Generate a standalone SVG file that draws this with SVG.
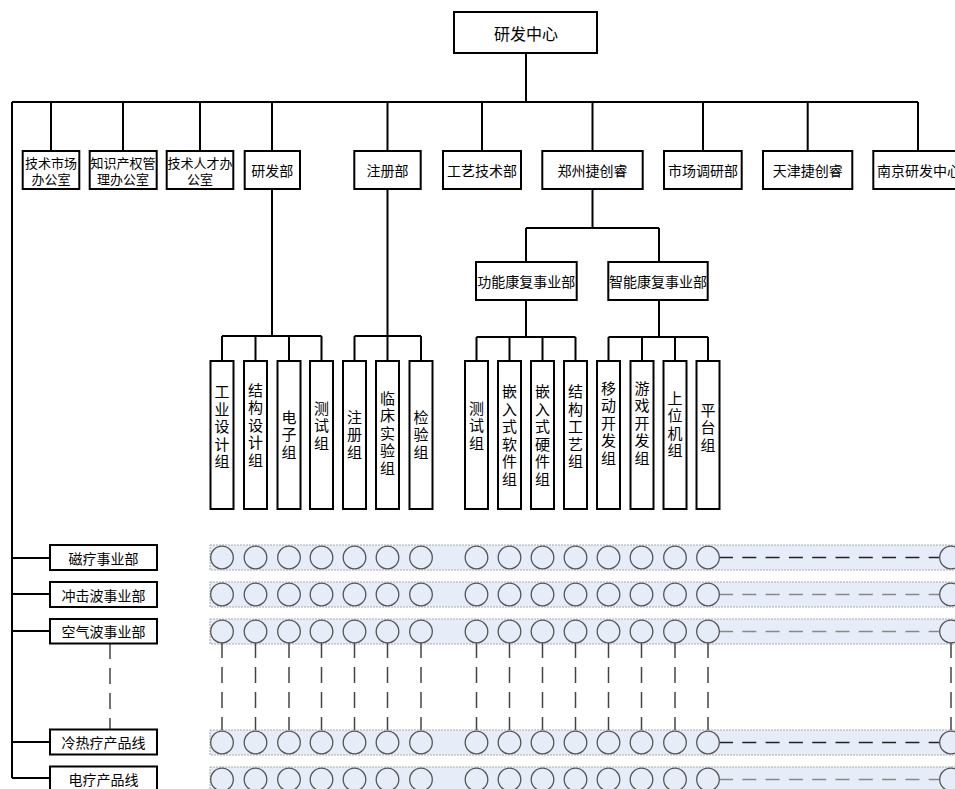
<svg xmlns="http://www.w3.org/2000/svg" width="955" height="789" viewBox="0 0 955 789">
<style>
.box{fill:#fff;stroke:#000;stroke-width:2}
.ln{fill:none;stroke:#000;stroke-width:2}
.t{font-family:"Noto Sans CJK SC","Liberation Sans",sans-serif;fill:#000;text-anchor:middle;dominant-baseline:central}
.t13{font-size:13px}
.t14{font-size:14px}
.t16{font-size:16px}
.v{font-family:"Noto Sans CJK SC","Liberation Sans",sans-serif;fill:#000;font-size:15px;writing-mode:vertical-rl;text-anchor:start;dominant-baseline:central;letter-spacing:2.5px}
.band{fill:#e7edf8;stroke:#aaa;stroke-width:1;stroke-dasharray:2 1}
.c{fill:#e7edf8;stroke:#555;stroke-width:1.3}
.hd1{fill:none;stroke:#222;stroke-width:1.5;stroke-dasharray:14 9.3}
.hd2{fill:none;stroke:#888;stroke-width:1.5;stroke-dasharray:14 9.3}
.vd{fill:none;stroke:#444;stroke-width:1.5;stroke-dasharray:16 9}
</style>
<rect width="955" height="789" fill="#fff"/>

<g id="connectors">
<path class="ln" d="M526,53V102M12,102H918M51,102V151M123,102V151M200,102V151M272,102V151M387.5,102V151M482,102V151M592.5,102V151M703,102V151M807.7,102V151M918,102V151"/>
<path class="ln" d="M272,189V336M222,336H321.5M222,336V361M255.5,336V361M289,336V361M321.5,336V361"/>
<path class="ln" d="M387.5,189V336M354.5,336H421M354.5,336V361M387.5,336V361M421,336V361"/>
<path class="ln" d="M592.5,189V228M526,228H659M526,228V262M659,228V262"/>
<path class="ln" d="M526,300V337M476.5,337H575.5M476.5,337V361M509.5,337V361M542.5,337V361M575.5,337V361"/>
<path class="ln" d="M659,300V337M608.5,337H708M608.5,337V361M642,337V361M675,337V361M708,337V361"/>
<path class="ln" d="M12,102V778M12,558H50M12,594H50M12,631H50M12,742H50M12,778H50"/>
<path class="vd" d="M110,643V729"/>
</g>

<g id="n-center"><rect class="box" x="454" y="12" width="143" height="41"/><text class="t t16" x="526" y="33">研发中心</text></g>

<g id="n-jssc"><rect class="box" x="22.7" y="151" width="56.6" height="38"/><text class="t t13"><tspan x="51" y="162">技术市场</tspan><tspan x="51" dy="16">办公室</tspan></text></g>
<g id="n-zscq"><rect class="box" x="89.7" y="151" width="67" height="38"/><text class="t t13"><tspan x="123" y="162">知识产权管</tspan><tspan x="123" dy="16">理办公室</tspan></text></g>
<g id="n-jsrc"><rect class="box" x="166.7" y="151" width="66.6" height="38"/><text class="t t13"><tspan x="200" y="162">技术人才办</tspan><tspan x="200" dy="16">公室</tspan></text></g>
<g id="n-yfb"><rect class="box" x="244.7" y="151" width="55.3" height="38"/><text class="t t14" x="272.3" y="170">研发部</text></g>
<g id="n-zcb"><rect class="box" x="354.3" y="151" width="66.4" height="38"/><text class="t t14" x="387.5" y="170">注册部</text></g>
<g id="n-gyjs"><rect class="box" x="443" y="151" width="78" height="38"/><text class="t t14" x="482" y="170">工艺技术部</text></g>
<g id="n-zzjcr"><rect class="box" x="542.3" y="151" width="100.4" height="38"/><text class="t t14" x="592.5" y="170">郑州捷创睿</text></g>
<g id="n-scdy"><rect class="box" x="664" y="151" width="77.7" height="38"/><text class="t t14" x="703" y="170">市场调研部</text></g>
<g id="n-tjjcr"><rect class="box" x="763" y="151" width="89.3" height="38"/><text class="t t14" x="807.7" y="170">天津捷创睿</text></g>
<g id="n-njyf"><rect class="box" x="873.3" y="151" width="95" height="38"/><text class="t t14" x="919" y="170">南京研发中心</text></g>

<g id="n-gnkf"><rect class="box" x="476" y="262" width="100.7" height="38"/><text class="t t14" x="526.3" y="281">功能康复事业部</text></g>
<g id="n-znkf"><rect class="box" x="608.3" y="262" width="99.4" height="38"/><text class="t t14" x="658" y="281">智能康复事业部</text></g>

<g id="n-l1"><rect class="box" x="210.5" y="361" width="23" height="148"/><text class="v" x="222" y="384">工业设计组</text></g>
<g id="n-l2"><rect class="box" x="244" y="361" width="23" height="148"/><text class="v" x="255.5" y="382.5">结构设计组</text></g>
<g id="n-l3"><rect class="box" x="277.5" y="361" width="23" height="148"/><text class="v" x="289" y="409.5">电子组</text></g>
<g id="n-l4"><rect class="box" x="310" y="361" width="23" height="148"/><text class="v" x="321.5" y="400.5">测试组</text></g>
<g id="n-l5"><rect class="box" x="343" y="361" width="23" height="148"/><text class="v" x="354.5" y="409.5">注册组</text></g>
<g id="n-l6"><rect class="box" x="376" y="361" width="23" height="148"/><text class="v" x="387.5" y="390.5">临床实验组</text></g>
<g id="n-l7"><rect class="box" x="409.5" y="361" width="23" height="148"/><text class="v" x="421" y="409.5">检验组</text></g>
<g id="n-l8"><rect class="box" x="465" y="361" width="23" height="148"/><text class="v" x="476.5" y="400.5">测试组</text></g>
<g id="n-l9"><rect class="box" x="498" y="361" width="23" height="148"/><text class="v" x="509.5" y="384">嵌入式软件组</text></g>
<g id="n-l10"><rect class="box" x="531" y="361" width="23" height="148"/><text class="v" x="542.5" y="384">嵌入式硬件组</text></g>
<g id="n-l11"><rect class="box" x="564" y="361" width="23" height="148"/><text class="v" x="575.5" y="384">结构工艺组</text></g>
<g id="n-l12"><rect class="box" x="597" y="361" width="23" height="148"/><text class="v" x="608.5" y="380.5">移动开发组</text></g>
<g id="n-l13"><rect class="box" x="630.5" y="361" width="23" height="148"/><text class="v" x="642" y="380.5">游戏开发组</text></g>
<g id="n-l14"><rect class="box" x="663.5" y="361" width="23" height="148"/><text class="v" x="675" y="390.5">上位机组</text></g>
<g id="n-l15"><rect class="box" x="696.5" y="361" width="23" height="148"/><text class="v" x="708" y="402.5">平台组</text></g>

<g id="n-r1"><rect class="box" x="50" y="545" width="107" height="25"/><text class="t t14" x="103.5" y="557.5">磁疗事业部</text></g>
<g id="n-r2"><rect class="box" x="50" y="582" width="107" height="25"/><text class="t t14" x="103.5" y="594.5">冲击波事业部</text></g>
<g id="n-r3"><rect class="box" x="50" y="619" width="107" height="24.5"/><text class="t t14" x="103.5" y="631">空气波事业部</text></g>
<g id="n-r4"><rect class="box" x="50" y="729.5" width="107" height="25"/><text class="t t14" x="103.5" y="742">冷热疗产品线</text></g>
<g id="n-r5"><rect class="box" x="50" y="766.5" width="107" height="25"/><text class="t t14" x="103.5" y="778.5">电疗产品线</text></g>

<defs>
<g id="circles">
<circle class="c" cx="222" cy="0" r="11.3"/><circle class="c" cx="255.5" cy="0" r="11.3"/><circle class="c" cx="289" cy="0" r="11.3"/><circle class="c" cx="321.5" cy="0" r="11.3"/><circle class="c" cx="354.5" cy="0" r="11.3"/><circle class="c" cx="387.5" cy="0" r="11.3"/><circle class="c" cx="421" cy="0" r="11.3"/><circle class="c" cx="476.5" cy="0" r="11.3"/><circle class="c" cx="509.5" cy="0" r="11.3"/><circle class="c" cx="542.5" cy="0" r="11.3"/><circle class="c" cx="575.5" cy="0" r="11.3"/><circle class="c" cx="608.5" cy="0" r="11.3"/><circle class="c" cx="641.5" cy="0" r="11.3"/><circle class="c" cx="675" cy="0" r="11.3"/><circle class="c" cx="708" cy="0" r="11.3"/><circle class="c" cx="951" cy="0" r="11.3"/>
</g>
</defs>

<g id="matrix">
<rect class="band" x="210" y="545" width="760" height="25"/>
<rect class="band" x="210" y="582" width="760" height="25"/>
<rect class="band" x="210" y="619" width="760" height="25"/>
<rect class="band" x="210" y="730" width="760" height="25"/>
<rect class="band" x="210" y="767" width="760" height="25"/>
<path class="vd" d="M222,642V730M255.5,642V730M289,642V730M321.5,642V730M354.5,642V730M387.5,642V730M421,642V730M476.5,642V730M509.5,642V730M542.5,642V730M575.5,642V730M608.5,642V730M641.5,642V730M675,642V730M708,642V730M951,642V730"/>
<path class="hd1" d="M719,557.5H940"/>
<path class="hd2" d="M719,594.5H940"/>
<path class="hd2" d="M719,631.5H940"/>
<path class="hd1" d="M719,742.5H940"/>
<path class="hd2" d="M719,779.5H940"/>
<use href="#circles" y="557.5"/>
<use href="#circles" y="594.5"/>
<use href="#circles" y="631.5"/>
<use href="#circles" y="742.5"/>
<use href="#circles" y="779.5"/>
</g>
</svg>
